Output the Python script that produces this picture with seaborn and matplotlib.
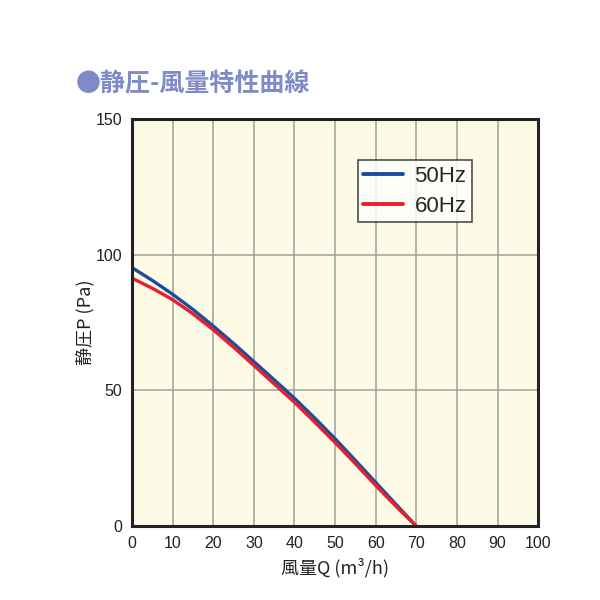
import pandas as pd
import seaborn as sns
import matplotlib.pyplot as plt

# 風量 (m3/h) と静圧 (Pa) の読み取り値
flow = [0, 5, 10, 15, 20, 25, 30, 35, 40, 45, 50, 55, 60, 65, 70]
p_50hz = [95.2, 90.5, 85.4, 79.8, 73.7, 67.3, 60.6, 53.9, 47.1, 39.8, 32.2, 24.2, 16.1, 8.0, 0.0]
p_60hz = [91.3, 87.6, 83.4, 78.2, 72.3, 65.9, 59.2, 52.4, 45.6, 38.3, 30.8, 23.0, 15.0, 7.3, 0.0]
series_names = ['50Hz', '60Hz']
x_ticks = [0, 10, 20, 30, 40, 50, 60, 70, 80, 90, 100]
y_ticks = [0, 50, 100, 150]

df = pd.concat([
    pd.DataFrame({'Q': flow, 'P': p_50hz, 'freq': series_names[0]}),
    pd.DataFrame({'Q': flow, 'P': p_60hz, 'freq': series_names[1]}),
])

sns.set_style('white')
plt.rcParams['font.family'] = ['Noto Sans CJK JP', 'DejaVu Sans']

fig = plt.figure(figsize=(6, 6), dpi=100)
ax = fig.add_axes([0.22, 0.123, 0.677, 0.679])
ax.set_facecolor('#fdfbe6')

sns.lineplot(data=df, x='Q', y='P', hue='freq', ax=ax,
             palette={'50Hz': '#1a4d9e', '60Hz': '#e8202a'}, linewidth=2.4)

ax.set_xlim(0, 100)
ax.set_ylim(0, 150)
ax.set_xticks(x_ticks)
ax.set_yticks(y_ticks)
ax.grid(True, color='#a0a0a0', linewidth=1.1)
ax.set_axisbelow(True)
for s in ax.spines.values():
    s.set_color('#222222')
    s.set_linewidth(2.2)
ax.tick_params(axis='both', length=0, pad=7, labelsize=11.5, colors='#222222')
for lab in ax.get_xticklabels() + ax.get_yticklabels():
    lab.set_family(['Liberation Sans Narrow', 'Liberation Sans', 'DejaVu Sans'])

ax.set_xlabel('風量Q (m³/h)', fontsize=13, labelpad=5, color='#222222')
ax.set_ylabel('静圧P (Pa)', fontsize=13, labelpad=1, color='#222222')

leg = ax.legend(loc='upper left', bbox_to_anchor=(0.556, 0.898), fontsize=16,
                frameon=True, fancybox=False, handlelength=1.8, handletextpad=0.5,
                borderpad=0.25, labelspacing=0.4, borderaxespad=0, title=None)
leg.get_frame().set_edgecolor('#222222')
leg.get_frame().set_linewidth(1.2)
leg.get_frame().set_facecolor('white')
for line in leg.get_lines():
    line.set_linewidth(2.8)
for t in leg.get_texts():
    t.set_family(['Liberation Sans', 'DejaVu Sans'])

fig.text(0.127, 0.86, '●静圧-風量特性曲線', fontsize=18, fontweight='bold',
         color='#7f8ac8', va='center', ha='left')

fig.savefig('out.png', dpi=100, facecolor='white')
